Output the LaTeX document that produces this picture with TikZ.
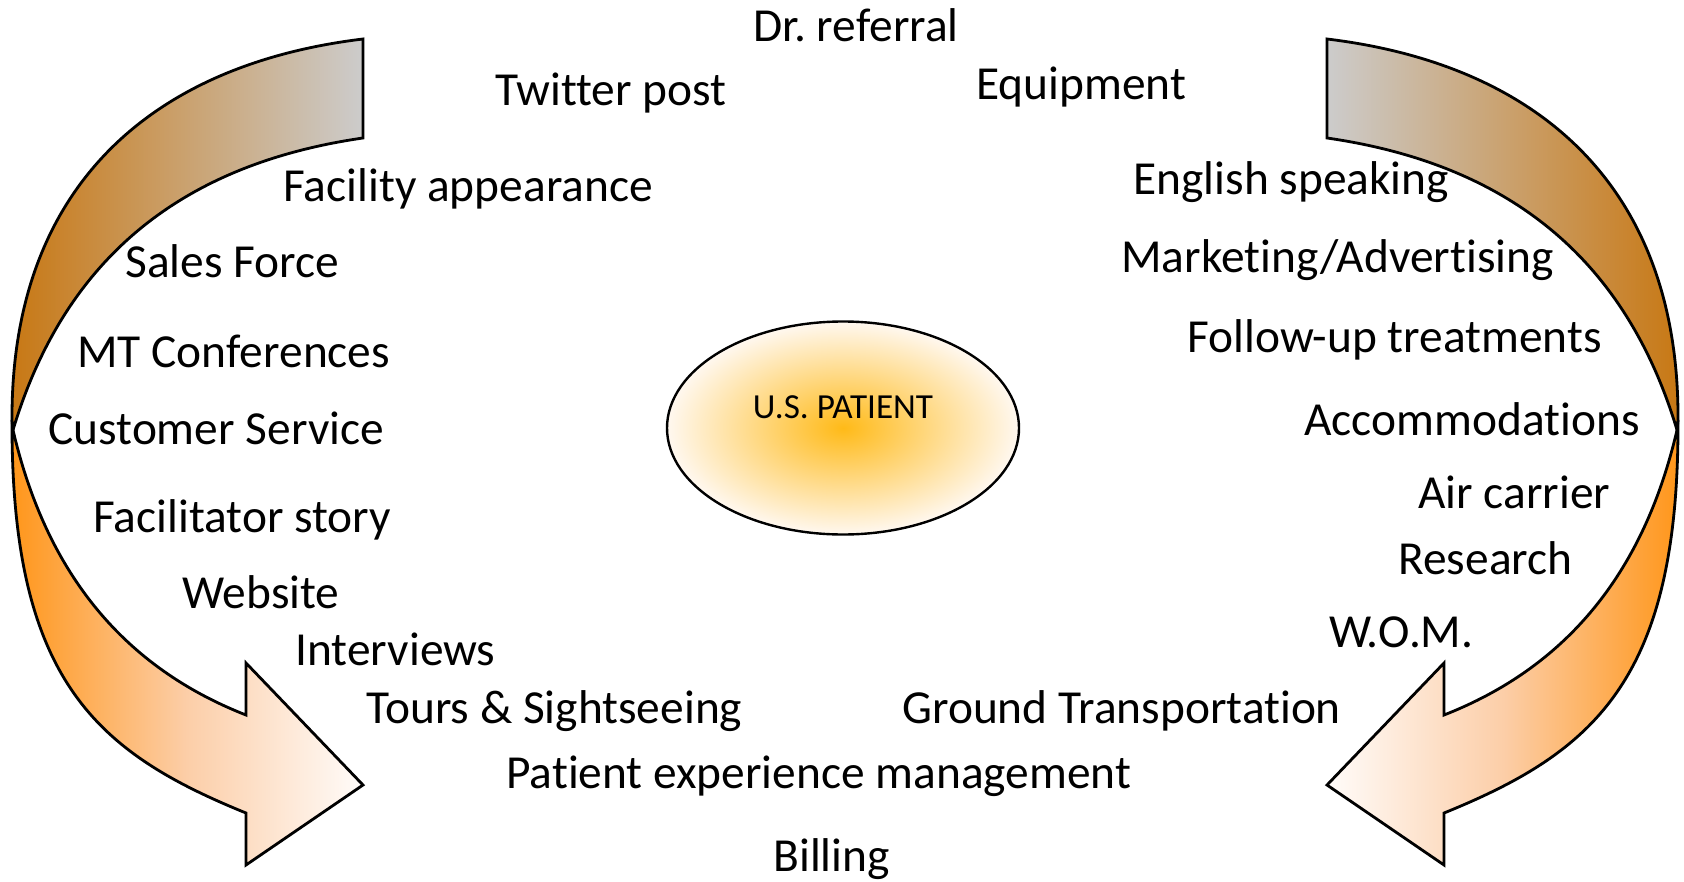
\documentclass[tikz,border=0pt]{standalone}
\usepackage{fontspec}
\setmainfont{Carlito}[
    Ligatures={NoCommon,NoRequired,NoContextual,NoRare},
    Contextuals=NoAlternate
]
\usetikzlibrary{
    shapes.geometric  % For the ellipse in the middle
}

\definecolor{band_dark}{RGB}{200,120,20}
\definecolor{band_grey}{RGB}{204,204,204}
\definecolor{head_orange}{RGB}{255,150,26}
\definecolor{head_mid}{RGB}{252,206,168}
\definecolor{head_pale}{RGB}{255,252,250}
\definecolor{core_orange}{RGB}{255,186,24}
\definecolor{core_pale}{RGB}{255,248,240}

\begin{document}
\begin{tikzpicture}[
    % One unit is one pixel, y runs downwards
    x=0.5pt, y=-0.5pt,
    % Style for the plain text items
    item_style/.style={
        anchor=base west,
        inner sep=0pt,
        font=\fontsize{23.7}{28}\selectfont
    },
    % Outline shared by both circular arrows
    arrow_outline/.style={
        draw=black,
        line width=1.4pt,
        line join=miter
    },
    % Upper band (grey to brown) and lower band with head (orange to white)
    band_left/.style={arrow_outline, left color=band_dark, right color=band_grey},
    band_right/.style={arrow_outline, left color=band_grey, right color=band_dark},
    head_left/.style={arrow_outline, left color=head_orange, right color=head_pale, middle color=head_mid},
    head_right/.style={arrow_outline, left color=head_pale, right color=head_orange, middle color=head_mid},
    % Style for the ellipse in the centre
    patient_style/.style={
        ellipse,
        draw,
        line width=1.2pt,
        minimum width=176pt,
        minimum height=106.5pt,
        inner color=core_orange,
        outer color=core_pale
    }
]
    \useasboundingbox (0,0) rectangle (1684,882);

    % 1. The two circular arrows, the right one mirrored
    \foreach \side/\flip/\offset in {left/1/0, right/-1/1690} {
        \begin{scope}[shift={(\offset,0)}, xscale=\flip]
            \shade[head_\side] (12,420) .. controls (11,680) and (96,752) .. (246,813)
                -- (246,865) -- (363,785) -- (246,663) -- (246,715)
                .. controls (126,668) and (47,576) .. (13,430) -- cycle;
            \shade[band_\side] (363,39) .. controls (148,65) and (11,190) .. (12,420)
                -- (13,430) .. controls (65,257) and (183,164) .. (363,138) -- cycle;
        \end{scope}
    }

    % 2. The patient in the middle
    \node[patient_style] (patient) at (843,428) {};
    \node[anchor=base, inner sep=0pt, font=\fontsize{17.6}{21}\selectfont]
        (patient_text) at ([yshift=5pt]patient.center) {U.S.\ PATIENT};

    % 3. Items around the patient
    \node[item_style] (dr_referral) at (753,42) {Dr.\ referral};
    \node[item_style] (twitter_post) at (495,106) {Twitter post};
    \node[item_style] (equipment) at (976,100) {Equipment};
    \node[item_style] (facility) at (283,202) {Facility appearance};
    \node[item_style] (english) at (1133,195) {English speaking};
    \node[item_style] (sales_force) at (125,277) {Sales Force};
    \node[item_style] (marketing) at (1121,272) {Marketing/Advertising};
    \node[item_style] (mt_conferences) at (77,367) {MT Conferences};
    \node[item_style] (follow_up) at (1187,352) {Follow-up treatments};
    \node[item_style] (customer_service) at (48,444) {Customer Service};
    \node[item_style] (accommodations) at (1304,435) {Accommodations};
    \node[item_style] (air_carrier) at (1418,508) {Air carrier};
    \node[item_style] (facilitator) at (93,532) {Facilitator story};
    \node[item_style] (research) at (1398,574) {Research};
    \node[item_style] (website) at (182,608) {Website};
    \node[item_style] (wom) at (1329,647) {W.O.M.};
    \node[item_style] (interviews) at (295,665) {Interviews};
    \node[item_style] (tours) at (366,723) {Tours \& Sightseeing};
    \node[item_style] (ground) at (902,723) {Ground Transportation};
    \node[item_style] (experience) at (506,788) {Patient experience management};
    \node[item_style] (billing) at (773,871) {Billing};

\end{tikzpicture}
\end{document}
